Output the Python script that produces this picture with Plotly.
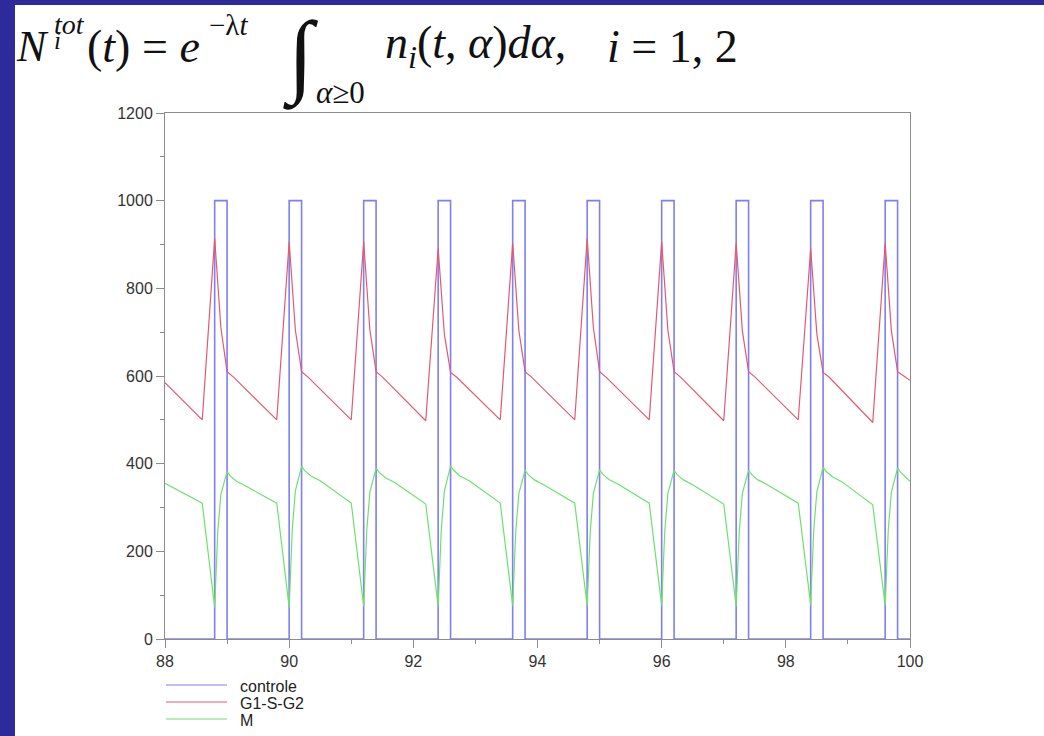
import plotly.graph_objects as go

# ---------------- data ----------------
series_names = ["controle", "G1-S-G2", "M"]

controle_t = [88.0, 88.8, 89.0, 90.0, 90.2, 91.2, 91.4, 92.4, 92.6, 93.6, 93.8,
              94.8, 95.0, 96.0, 96.2, 97.2, 97.4, 98.4, 98.6, 99.6, 99.8, 100.0]
controle_v = [0, 1000, 0, 1000, 0, 1000, 0, 1000, 0, 1000, 0,
              1000, 0, 1000, 0, 1000, 0, 1000, 0, 1000, 0, 0]

g1_t = [88.0, 88.6, 88.8, 88.9, 89.0, 89.1,
        89.8, 90.0, 90.1, 90.2, 90.3,
        91.0, 91.2, 91.3, 91.4, 91.5,
        92.2, 92.4, 92.5, 92.6, 92.7,
        93.4, 93.6, 93.7, 93.8, 93.9,
        94.6, 94.8, 94.9, 95.0, 95.1,
        95.8, 96.0, 96.1, 96.2, 96.3,
        97.0, 97.2, 97.3, 97.4, 97.5,
        98.2, 98.4, 98.5, 98.6, 98.7,
        99.4, 99.6, 99.7, 99.8, 99.9, 100.0]
g1_v = [585, 500, 914, 710, 610, 598,
        500, 906, 705, 610, 598,
        500, 906, 705, 610, 598,
        498, 891, 695, 608, 597,
        500, 903, 703, 610, 598,
        500, 914, 710, 610, 598,
        500, 906, 705, 610, 598,
        498, 903, 703, 610, 598,
        500, 891, 695, 608, 597,
        494, 903, 703, 610, 600, 590]

m_t = [88.0, 88.6, 88.8, 88.85, 88.9, 89.0, 89.05, 89.15, 89.3,
       89.8, 90.0, 90.05, 90.1, 90.2, 90.25, 90.35, 90.5,
       91.0, 91.2, 91.25, 91.3, 91.4, 91.45, 91.55, 91.7,
       92.2, 92.4, 92.45, 92.5, 92.6, 92.65, 92.75, 92.9,
       93.4, 93.6, 93.65, 93.7, 93.8, 93.85, 93.95, 94.1,
       94.6, 94.8, 94.85, 94.9, 95.0, 95.05, 95.15, 95.3,
       95.8, 96.0, 96.05, 96.1, 96.2, 96.25, 96.35, 96.5,
       97.0, 97.2, 97.25, 97.3, 97.4, 97.45, 97.55, 97.7,
       98.2, 98.4, 98.45, 98.5, 98.6, 98.65, 98.75, 98.9,
       99.4, 99.6, 99.65, 99.7, 99.8, 99.85, 99.95, 100.0]
m_v = [355, 310, 72, 245, 330, 382, 372, 360, 349,
       310, 72, 250, 338, 394, 384, 372, 361,
       310, 75, 248, 335, 390, 380, 368, 357,
       308, 74, 248, 338, 395, 385, 372, 361,
       310, 76, 246, 332, 385, 375, 363, 352,
       310, 75, 246, 332, 386, 376, 364, 353,
       310, 76, 246, 332, 385, 375, 363, 352,
       308, 75, 246, 332, 385, 375, 363, 352,
       310, 78, 250, 336, 392, 382, 370, 359,
       306, 76, 248, 335, 390, 380, 366, 360]

x_range = [88, 100]
y_range = [0, 1200]

colors = ["#7f7ff0", "#e35a70", "#6fe06f"]
widths = [1.6, 1.2, 1.2]

# ---------------- layout helpers (pixel -> paper) ----------------
W, H = 1044, 736
ML, MR, MT, MB = 165, 134, 113, 97
PW, PH = W - ML - MR, H - MT - MB


def px(x):
    return (x - ML) / PW


def py(y):
    return (H - MB - y) / PH


fig = go.Figure()
for name, tt, vv, c, w in zip(series_names, [controle_t, g1_t, m_t],
                              [controle_v, g1_v, m_v], colors, widths):
    fig.add_trace(go.Scatter(
        x=tt, y=vv, mode="lines", name=name,
        line=dict(color=c, width=w, shape="hv" if name == "controle" else "linear"),
        showlegend=False, hoverinfo="skip"))

axis_common = dict(
    showgrid=False, zeroline=False, showline=True, linecolor="#8c8c8c",
    linewidth=1, mirror=True, ticks="outside", ticklen=8, tickwidth=1,
    tickcolor="#8c8c8c", tickfont=dict(family="Liberation Sans", size=16, color="#333333"),
    layer="below traces")

fig.update_xaxes(range=x_range, dtick=2, tick0=88,
                 minor=dict(dtick=1, ticks="outside", ticklen=4, tickcolor="#8c8c8c", showgrid=False),
                 **axis_common)
fig.update_yaxes(range=y_range, dtick=200, tick0=0,
                 minor=dict(dtick=100, ticks="outside", ticklen=4, tickcolor="#8c8c8c", showgrid=False),
                 **axis_common)

shapes = [
    dict(type="rect", xref="paper", yref="paper", x0=px(15), x1=px(W + 10),
         y0=py(H + 10), y1=py(5), fillcolor="white", line=dict(width=0), layer="below"),
]

annotations = []
# legend (manual, to match the long line samples)
for i, (name, c) in enumerate(zip(series_names, colors)):
    yy = 685 + 17 * i
    shapes.append(dict(type="line", xref="paper", yref="paper", x0=px(166), x1=px(227),
                       y0=py(yy), y1=py(yy), line=dict(color=c, width=1.2)))
    annotations.append(dict(xref="paper", yref="paper", x=px(238), y=py(yy + 1),
                            xanchor="left", yanchor="middle", showarrow=False, text=name,
                            font=dict(family="Liberation Sans", size=16, color="#222222")))

# formula (pieces)
serif = "Liberation Serif"
big = 46
small = 29


def piece(text, x, y, size, xanchor="left"):
    annotations.append(dict(xref="paper", yref="paper", x=px(x), y=py(y), xanchor=xanchor,
                            yanchor="middle", showarrow=False, text=text,
                            font=dict(family=serif, size=size, color="#111111")))


piece("<i>N</i>", 14, 46, 44)
piece("<i>tot</i>", 52, 24, 28)
piece("<i>i</i>", 52, 40, 25)
piece("(<i>t</i>) = <i>e</i>", 85, 46, big)
piece("−λ<i>t</i>", 207, 25, small)
piece("∫", 281, 57, 92)
piece("<i>α</i>≥0", 314, 92, 31)
piece("<i>n</i><sub><i>i</i></sub>(<i>t</i>, <i>α</i>)<i>dα</i>,", 383, 46, big)
piece("<i>i</i> = 1, 2", 605, 46, big)

fig.update_layout(
    width=W, height=H, margin=dict(l=ML, r=MR, t=MT, b=MB, pad=0),
    paper_bgcolor="#2d2a9b", plot_bgcolor="white",
    shapes=shapes, annotations=annotations, showlegend=False)

fig.write_html("out.html")
